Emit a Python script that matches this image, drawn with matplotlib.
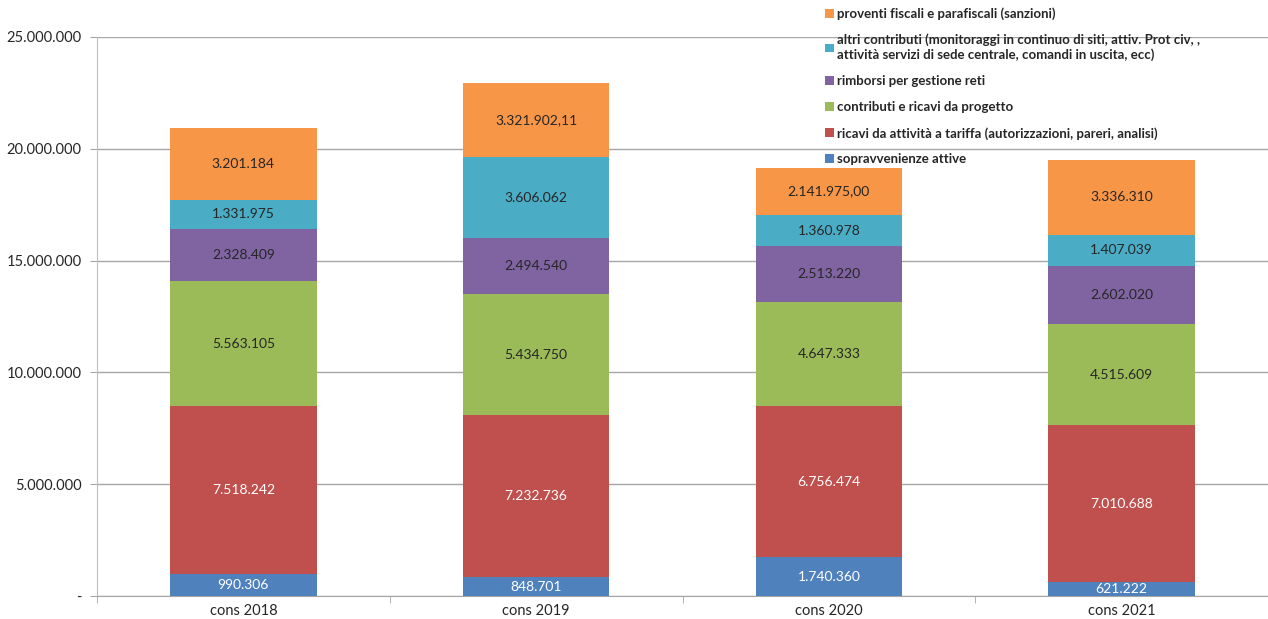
import matplotlib
matplotlib.use("Agg")
import matplotlib.pyplot as plt
from matplotlib.ticker import FuncFormatter, FixedLocator
import numpy as np

# categories and series (bottom to top in the stack)
years = ["cons 2018", "cons 2019", "cons 2020", "cons 2021"]

sopravvenienze = [990306, 848701, 1740360, 621222]
ricavi_tariffa = [7518242, 7232736, 6756474, 7010688]
contributi_progetto = [5563105, 5434750, 4647333, 4515609]
rimborsi_reti = [2328409, 2494540, 2513220, 2602020]
altri_contributi = [1331975, 3606062, 1360978, 1407039]
proventi_fiscali = [3201184, 3321902.11, 2141975.00, 3336310]
# the source shows two of the orange labels with two decimals
proventi_decimals = [0, 2, 2, 0]

series_names = [
    "sopravvenienze attive",
    "ricavi da attività a tariffa (autorizzazioni, pareri, analisi)",
    "contributi e ricavi da progetto",
    "rimborsi per gestione reti",
    "altri contributi (monitoraggi in continuo di siti, attiv. Prot civ, ,\n"
    "attività servizi di sede centrale, comandi in uscita, ecc)",
    "proventi fiscali e parafiscali (sanzioni)",
]
colors = ["#4F81BD", "#C0504D", "#9BBB59", "#8064A2", "#4BACC6", "#F79646"]
label_colors = ["white", "white", "#262626", "#262626", "#262626", "#262626"]


def fmt_it(v, decimals=0):
    s = f"{v:,.{decimals}f}"
    return s.replace(",", "X").replace(".", ",").replace("X", ".")


plt.rcParams["font.family"] = ["Lato", "DejaVu Sans"]

fig = plt.figure(figsize=(12.68, 6.19), dpi=100)
ax = fig.add_axes([97 / 1268, 23 / 619, 1 - 97 / 1268, (596 - 37) / 619])

all_series = [sopravvenienze, ricavi_tariffa, contributi_progetto,
              rimborsi_reti, altri_contributi, proventi_fiscali]
x = np.arange(len(years))
bottom = np.zeros(len(years))
handles = []
for i, vals in enumerate(all_series):
    vals = np.array(vals, dtype=float)
    bars = ax.bar(x, vals, 0.5, bottom=bottom, color=colors[i],
                  label=series_names[i], zorder=3, linewidth=0)
    handles.append(bars)
    for j, v in enumerate(vals):
        dec = proventi_decimals[j] if i == 5 else 0
        ax.text(x[j], bottom[j] + v / 2, fmt_it(v, dec), ha="center",
                va="center", fontsize=10, color=label_colors[i], zorder=4)
    bottom += vals

ax.set_xlim(-0.5, len(years) - 0.5)
ax.set_ylim(0, 25000000)
ax.set_yticks(np.arange(0, 25000001, 5000000))
ax.yaxis.set_major_formatter(FuncFormatter(lambda v, p: "-" if v == 0 else fmt_it(v)))
ax.grid(axis="y", color="#A6A6A6", linewidth=1, zorder=0)

ax.set_xticks(x)
ax.set_xticklabels(years)
ax.xaxis.set_minor_locator(FixedLocator(np.arange(-0.5, len(years), 1.0)))
ax.tick_params(axis="x", which="major", length=0, labelsize=10.5, pad=6,
               colors="#262626")
ax.tick_params(axis="x", which="minor", length=5, color="#A6A6A6")
ax.tick_params(axis="y", length=5, color="#A6A6A6", labelsize=10.5, pad=6)
ax.tick_params(axis="y", colors="#A6A6A6", labelcolor="#262626")

for side in ["top", "right"]:
    ax.spines[side].set_visible(False)
ax.spines["left"].set_color("#BFBFBF")
ax.spines["bottom"].set_color("#A6A6A6")

leg = ax.legend(handles[::-1], series_names[::-1], loc="upper left",
                bbox_to_anchor=(818 / 1268, 1.0), bbox_transform=fig.transFigure,
                frameon=False, prop={"weight": "bold", "size": 9.5},
                handlelength=0.65, handleheight=0.65, handletextpad=0.25,
                labelspacing=1.05, borderaxespad=0.15)
for t in leg.get_texts():
    t.set_color("#262626")

fig.savefig("out.png", dpi=100)
